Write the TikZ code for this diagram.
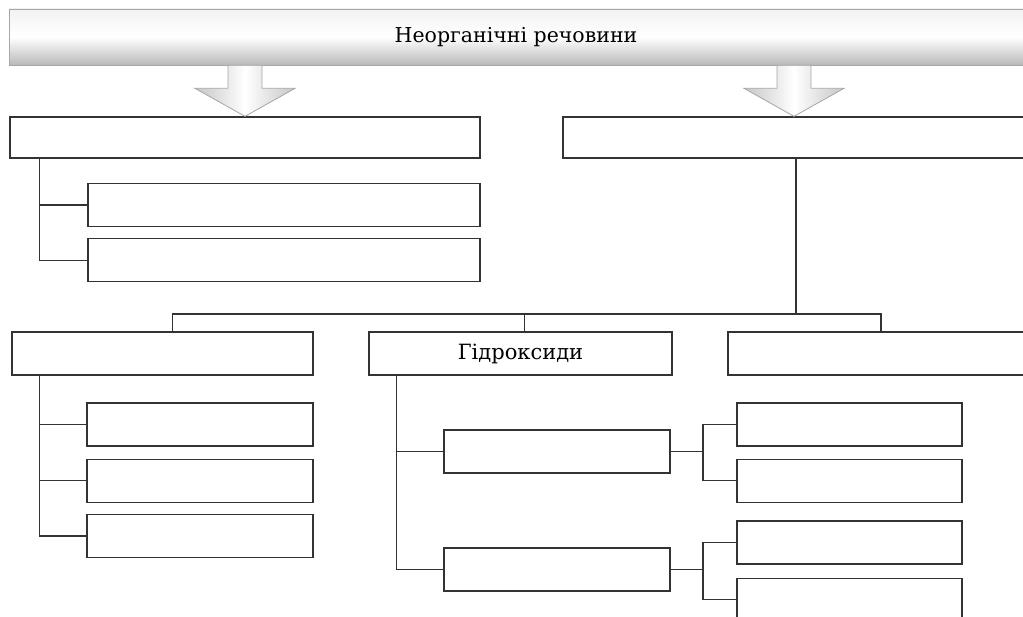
\documentclass[tikz,border=0pt]{standalone}
\usepackage{fontspec}
\setmainfont{DejaVu Serif}
\usetikzlibrary{positioning}

\begin{document}
\begin{tikzpicture}[x=1pt, y=-1pt, node distance=12pt,
    box/.style={rectangle, draw=black!80, line width=1.3pt, fill=white, minimum height=43pt, inner sep=0pt, font=\fontsize{21}{25}\selectfont},
    link/.style={draw=black!80, line width=1.3pt},
    banner/.style={rectangle, draw=gray!70, line width=0.8pt, top color=gray!10, bottom color=gray!55, middle color=white, minimum width=1014pt, minimum height=56pt, font=\fontsize{20.5}{25}\selectfont},
    blockarrow/.style={draw=gray!70, line width=0.8pt, left color=gray!45, right color=gray!45, middle color=white}]

\useasboundingbox (0,0) rectangle (1023,617);
\clip (0,0) rectangle (1023,617);

% Top level
\node[banner] (top) at (516,37) {Неорганічні речовини};
\node[box, minimum width=470pt, minimum height=41pt] (lt) at (245,137.5) {};
\node[box, minimum width=462pt, minimum height=41pt] (rt) at (794,137.5) {};

% Block arrows
\draw[blockarrow] (lt.north) -- ++(-50,-28) -- ++(33,0) -- ++(0,-23) -- ++(34,0) -- ++(0,23) -- ++(33,0) -- cycle;
\draw[blockarrow] (rt.north) -- ++(-50,-28) -- ++(33,0) -- ++(0,-23) -- ++(34,0) -- ++(0,23) -- ++(33,0) -- cycle;

% Left branch
\node[box, minimum width=392pt] (ls1) at (284,205) {};
\node[box, minimum width=392pt, below=11pt of ls1] (ls2) {};

% Second row
\node[box, minimum width=301pt] (rowL) at (162.5,353.5) {};
\node[box, minimum width=303pt] (rowM) at (520.5,353.5) {Гідроксиди};
\node[box, minimum width=306pt] (rowR) at (881,353.5) {};

\node[box, minimum width=226pt] (rl1) at (200,424.5) {};
\node[box, minimum width=226pt, below=of rl1] (rl2) {};
\node[box, minimum width=226pt, below=11pt of rl2] (rl3) {};

% Hydroxide branch
\node[box, minimum width=226pt] (base1) at (557,451.5) {};
\node[box, minimum width=226pt] (base2) at (557,569.5) {};
\node[box, minimum width=225pt] (b1a) at (849.5,424.5) {};
\node[box, minimum width=225pt, below=of b1a] (b1b) {};
\node[box, minimum width=225pt] (b2a) at (849.5,542.5) {};
\node[box, minimum width=225pt, below=13pt of b2a] (b2b) {};

\coordinate (bus) at (0,314);
\coordinate (j1) at (703,451.5);
\coordinate (j2) at (703,569.5);

% Connections
\draw[link] ([xshift=30pt]lt.south west) |- (ls1.west);
\draw[link] ([xshift=30pt]lt.south west) |- (ls2.west);
\draw[link] ([xshift=2pt]rt.south) -- ([xshift=2pt]rt.south |- bus);
\draw[link] ([xshift=10pt]rowL.north) |- (bus -| rowR.north) -- (rowR.north);
\draw[link] ([xshift=4pt]rowM.north) -- ([xshift=4pt]rowM.north |- bus);
\draw[link] ([xshift=28pt]rowL.south west) |- (rl1.west);
\draw[link] ([xshift=28pt]rowL.south west) |- (rl2.west);
\draw[link] ([xshift=28pt]rowL.south west) |- (rl3.west);
\draw[link] ([xshift=28pt]rowM.south west) |- (base1.west);
\draw[link] ([xshift=28pt]rowM.south west) |- (base2.west);
\draw[link] (base1.east) -- (j1);
\draw[link] (j1) |- (b1a.west);
\draw[link] (j1) |- (b1b.west);
\draw[link] (base2.east) -- (j2);
\draw[link] (j2) |- (b2a.west);
\draw[link] (j2) |- (b2b.west);

\end{tikzpicture}
\end{document}
